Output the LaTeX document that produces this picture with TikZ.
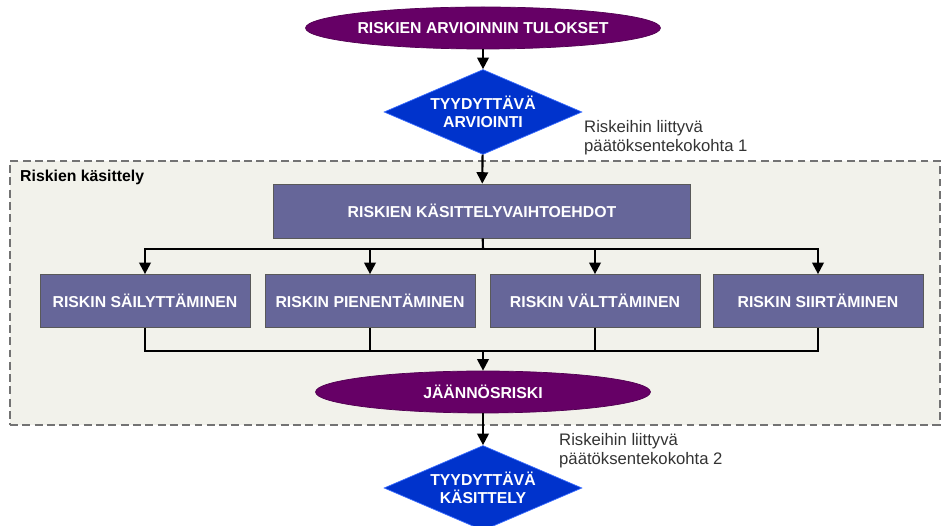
\documentclass[tikz,border=0pt]{standalone}
\usepackage{fontspec}
\setmainfont{Liberation Sans}
\usetikzlibrary{shapes.geometric, positioning, arrows.meta}
\definecolor{RKPurple}{RGB}{102,0,102}
\definecolor{RKBlue}{RGB}{0,51,204}
\definecolor{RKBlueEdge}{RGB}{60,110,255}
\definecolor{RKBox}{RGB}{102,102,153}
\definecolor{RKPanel}{RGB}{242,242,235}
\definecolor{RKText}{RGB}{51,51,51}

\begin{document}
\begin{tikzpicture}[x=0.02cm, y=-0.02cm,
          oval/.style={ellipse, fill=RKPurple, draw=RKPurple!80!black,
                       minimum width=6.7cm, minimum height=0.84cm, inner sep=0pt,
                       text=white, font=\fontsize{9}{10.5}\selectfont\bfseries},
          check/.style={diamond, aspect=2.33, fill=RKBlue, draw=RKBlueEdge,
                        minimum width=3.96cm, minimum height=1.7cm, inner sep=0pt,
                        text=white, align=center,
                        font=\fontsize{9}{10.5}\selectfont\bfseries},
          option/.style={rectangle, fill=RKBox, draw=black!65,
                         minimum width=4.2cm, minimum height=1.06cm,
                         text=white, font=\fontsize{9}{10.5}\selectfont\bfseries},
          note/.style={anchor=west, align=left, text=RKText,
                       font=\fontsize{9.5}{11}\selectfont},
          arr/.style={-{Triangle[length=6.5pt, width=6.5pt]}, line width=1.2pt},
          link/.style={line width=1.2pt}
        ]
        \useasboundingbox (0,0) rectangle (941,526);

        % Panel
        \node[draw=black!55, dash pattern=on 4.5pt off 2.5pt, line width=0.7pt,
              fill=RKPanel, rectangle, inner sep=0pt,
              minimum width=18.6cm, minimum height=5.28cm] (panel) at (475,293) {};
        \node[anchor=west, font=\fontsize{9}{10.5}\selectfont\bfseries] (ptitle)
              at (14,177) {Riskien käsittely};

        \node[oval] (tulos) at (483,28) {RISKIEN ARVIOINNIN TULOKSET};
        \node[check] (arv) at (483,112) {TYYDYTTÄVÄ\\ARVIOINTI};
        \node[note] (kohta1) at (578,138) {Riskeihin liittyvä\\päätöksentekokohta 1};

        \node[option, minimum width=8.34cm, minimum height=1.08cm] (vaiht) at (482,211)
              {RISKIEN KÄSITTELYVAIHTOEHDOT};
        \node[option] (sail) at (145,301) {RISKIN SÄILYTTÄMINEN};
        \node[option] (pien) at (370,301) {RISKIN PIENENTÄMINEN};
        \node[option] (valt) at (595,301) {RISKIN VÄLTTÄMINEN};
        \node[option] (siir) at (818,301) {RISKIN SIIRTÄMINEN};

        \node[oval] (jaan) at (483,392) {JÄÄNNÖSRISKI};
        \node[note] (kohta2) at (553,451) {Riskeihin liittyvä\\päätöksentekokohta 2};
        \node[check] (kas) at (483,488) {TYYDYTTÄVÄ\\KÄSITTELY};

        \coordinate (split) at (483,249);
        \coordinate (merge) at (483,351);

        % Main flow
        \draw[arr] (tulos) -- (arv);
        \draw[arr] (arv) -- (vaiht);

        % Options
        \draw[link] (vaiht) -- (split);
        \foreach \o in {sail, pien, valt, siir}
          \draw[arr] (split) -| (\o.north);
        \foreach \o in {sail, pien, valt, siir}
          \draw[link] (\o.south) |- (merge);

        % Residual
        \draw[arr] (merge) -- (jaan);
        \draw[arr] (jaan) -- (kas);
      \end{tikzpicture}
\end{document}
